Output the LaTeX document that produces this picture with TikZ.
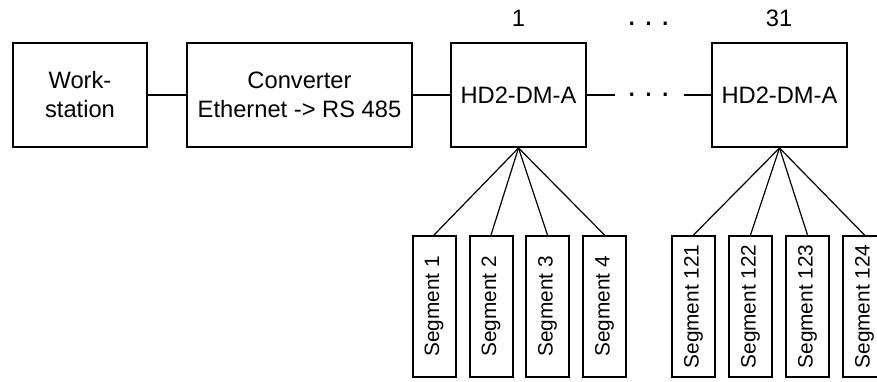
\documentclass[tikz,border=0pt]{standalone}
\usepackage{fontspec}
\setmainfont{Liberation Sans}
\begin{document}
\begin{tikzpicture}[x=1pt,y=-1pt,
  box/.style={draw, line width=2pt, inner sep=0pt, align=center, minimum height=104pt, font=\fontsize{23.7}{29}\selectfont},
  seg/.style={draw, line width=2pt, inner sep=0pt, rotate=90, minimum width=141pt, minimum height=43pt, font=\fontsize{20.8}{24}\selectfont},
  link/.style={line width=2pt},
  fan/.style={line width=1.2pt},
  lbl/.style={font=\fontsize{23.7}{29}\selectfont, inner sep=0pt, anchor=base},
  dots/.style={font=\fontsize{32}{36}\selectfont, inner sep=0pt, anchor=base}]
\useasboundingbox (0,0) rectangle (877,381);
\node[box, minimum width=134pt] (ws) at (80,95) {Work-\\station};
\node[box, minimum width=225pt] (conv) at (299.5,95) {Converter\\Ethernet -> RS 485};
\node[box, minimum width=135pt] (hd1) at (518.5,95) {HD2-DM-A};
\node[box, minimum width=135pt] (hd31) at (779.5,95) {HD2-DM-A};
\node[lbl] (n1) at (518.5,26) {1};
\node[dots] (tdots) at (648.5,25.6) {.\hspace{7.8pt}.\hspace{7.8pt}.};
\node[lbl] (n31) at (779,26) {31};
\node[dots] (mdots) at (648.5,96.6) {.\hspace{7.8pt}.\hspace{7.8pt}.};
\coordinate (c1) at (615,95);
\coordinate (c2) at (684,95);
\draw[link] (ws) -- (conv);
\draw[link] (conv) -- (hd1);
\draw[link] (hd1) -- (c1);
\draw[link] (c2) -- (hd31);
\node[seg] (s1) at (434,306.5) {Segment 1};
\node[seg] (s2) at (491,306.5) {Segment 2};
\node[seg] (s3) at (547.5,306.5) {Segment 3};
\node[seg] (s4) at (604.5,306.5) {Segment 4};
\node[seg] (s121) at (693.5,306.5) {Segment 121};
\node[seg] (s122) at (750.5,306.5) {Segment 122};
\node[seg] (s123) at (807.5,306.5) {Segment 123};
\node[seg] (s124) at (864.5,306.5) {Segment 124};
\foreach \s in {s1,s2,s3,s4} \draw[fan] (hd1.south) -- (\s.east);
\foreach \s in {s121,s122,s123,s124} \draw[fan] (hd31.south) -- (\s.east);
\end{tikzpicture}
\end{document}
